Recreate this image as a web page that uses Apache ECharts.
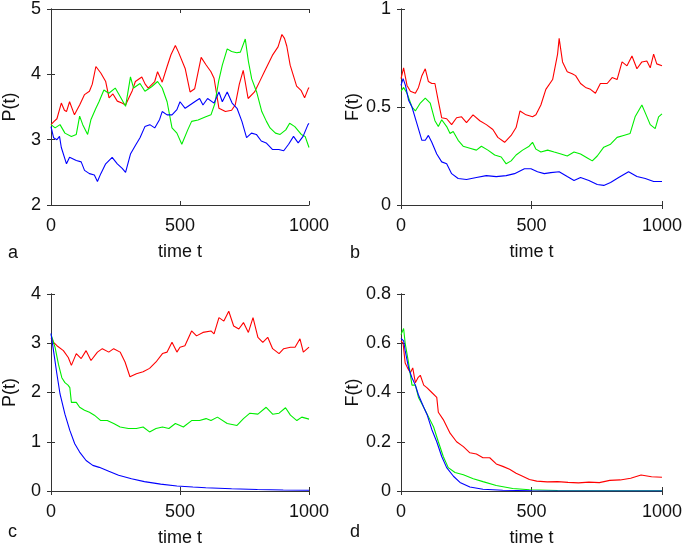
<!DOCTYPE html>
<html><head><meta charset="utf-8">
<script src="https://cdn.jsdelivr.net/npm/echarts@6/dist/echarts.min.js"></script>
<style>html,body{margin:0;padding:0;background:#fff}#c{width:685px;height:548px}</style>
</head><body><div id="c"></div>
<script>
// ---- tick labels ----
const xTicks = [0, 500, 1000];
const yTicksA = [2, 3, 4, 5];
const yTicksB = [0, 0.5, 1];
const yTicksC = [0, 1, 2, 3, 4];
const yTicksD = [0, 0.2, 0.4, 0.6, 0.8];

// ---- panel a: P(t) ----
const aRed = [[0,3.23],[12,3.28],[23,3.32],[40,3.56],[52,3.45],[60,3.43],[72,3.58],[91,3.38],[100,3.45],[111,3.53],[130,3.69],[149,3.74],[160,3.85],[174,4.12],[193,4.02],[212,3.89],[225,3.64],[240,3.7],[257,3.59],[275,3.56],[289,3.53],[302,3.64],[315,3.75],[327,3.89],[352,3.96],[365,3.85],[377,3.79],[402,3.89],[413,4.04],[431,3.88],[450,4.12],[465,4.3],[482,4.44],[494,4.34],[520,4.09],[539,3.73],[557,3.78],[582,4.26],[600,4.15],[620,4.04],[632,3.94],[651,3.48],[676,3.43],[700,3.45],[714,3.53],[730,3.85],[745,4.06],[764,3.63],[789,3.73],[810,3.9],[827,4.04],[858,4.29],[880,4.42],[895,4.61],[905,4.55],[914,4.43],[927,4.14],[952,3.82],[970,3.75],[983,3.64],[996,3.77],[1000,3.8]];
const aGreen = [[0,3.23],[16,3.18],[35,3.23],[54,3.1],[79,3.05],[98,3.08],[111,3.36],[123,3.23],[142,3.08],[155,3.31],[174,3.48],[186,3.58],[205,3.76],[224,3.71],[249,3.79],[268,3.66],[289,3.51],[308,3.96],[320,3.79],[345,3.86],[364,3.74],[390,3.81],[413,3.89],[431,3.79],[450,3.58],[469,3.18],[488,3.1],[507,2.93],[513,2.95],[530,3.15],[545,3.28],[570,3.3],[600,3.35],[620,3.38],[635,3.55],[650,3.9],[664,4.14],[683,4.39],[700,4.35],[720,4.33],[734,4.34],[753,4.54],[765,4.2],[778,3.93],[797,3.73],[817,3.43],[835,3.28],[849,3.18],[870,3.1],[888,3.08],[910,3.15],[925,3.25],[945,3.2],[970,3.08],[985,3.05],[1000,2.88]];
const aBlue = [[0,3.2],[10,3.03],[23,3.0],[33,3.05],[40,2.88],[60,2.63],[72,2.73],[98,2.68],[117,2.66],[130,2.53],[149,2.48],[168,2.46],[180,2.36],[193,2.48],[212,2.63],[237,2.73],[257,2.63],[276,2.56],[289,2.5],[308,2.78],[327,2.91],[345,3.03],[364,3.2],[383,3.23],[402,3.18],[421,3.31],[431,3.43],[450,3.38],[469,3.38],[488,3.46],[500,3.58],[520,3.48],[557,3.58],[576,3.63],[589,3.53],[607,3.63],[632,3.56],[651,3.73],[664,3.58],[683,3.73],[702,3.56],[721,3.48],[740,3.28],[758,3.03],[777,3.1],[796,3.08],[815,2.98],[834,2.95],[858,2.85],[883,2.85],[902,2.83],[921,2.93],[940,3.05],[958,2.95],[977,3.05],[996,3.23],[1000,3.25]];

// ---- panel b: F(t) ----
const bRed = [[0,0.645],[10,0.70],[23,0.61],[36,0.58],[55,0.57],[67,0.6],[80,0.66],[93,0.695],[105,0.63],[118,0.62],[130,0.62],[143,0.53],[156,0.445],[175,0.44],[194,0.41],[213,0.445],[232,0.45],[251,0.42],[276,0.46],[302,0.43],[327,0.41],[352,0.385],[371,0.345],[397,0.32],[422,0.355],[441,0.395],[456,0.48],[479,0.46],[504,0.45],[517,0.46],[536,0.51],[555,0.59],[581,0.64],[600,0.77],[606,0.85],[619,0.73],[637,0.68],[656,0.67],[669,0.66],[688,0.62],[707,0.6],[726,0.59],[745,0.57],[764,0.62],[790,0.62],[809,0.65],[828,0.64],[847,0.73],[866,0.71],[885,0.76],[904,0.695],[923,0.73],[942,0.735],[955,0.70],[968,0.77],[980,0.72],[1000,0.71]];
const bGreen = [[0,0.58],[10,0.6],[23,0.57],[42,0.5],[55,0.48],[74,0.52],[93,0.545],[112,0.52],[130,0.43],[143,0.4],[156,0.435],[175,0.4],[188,0.365],[200,0.375],[219,0.33],[238,0.3],[264,0.29],[289,0.28],[308,0.3],[333,0.28],[359,0.255],[384,0.245],[403,0.21],[422,0.225],[441,0.255],[466,0.28],[491,0.3],[504,0.32],[517,0.285],[536,0.27],[562,0.28],[587,0.27],[613,0.26],[637,0.25],[663,0.27],[688,0.26],[714,0.24],[733,0.225],[752,0.25],[777,0.295],[803,0.31],[828,0.345],[853,0.355],[878,0.365],[897,0.45],[923,0.51],[936,0.47],[955,0.41],[974,0.39],[987,0.45],[1000,0.465]];
const bBlue = [[0,0.61],[8,0.645],[17,0.61],[29,0.535],[42,0.5],[61,0.415],[80,0.33],[93,0.33],[105,0.355],[118,0.32],[137,0.26],[156,0.22],[175,0.21],[194,0.16],[219,0.135],[251,0.13],[289,0.14],[327,0.15],[365,0.145],[403,0.15],[435,0.16],[473,0.185],[498,0.185],[523,0.17],[549,0.16],[574,0.165],[606,0.17],[637,0.145],[663,0.125],[688,0.14],[720,0.125],[752,0.105],[777,0.1],[803,0.115],[834,0.14],[872,0.17],[904,0.145],[936,0.135],[968,0.12],[1000,0.12]];

// ---- panel c: P(t) ----
const cRed = [[0,3.11],[10,3.02],[23,2.95],[48,2.85],[67,2.71],[79,2.55],[98,2.79],[117,2.69],[136,2.85],[155,2.65],[180,2.82],[199,2.89],[224,2.82],[243,2.89],[268,2.82],[287,2.62],[306,2.32],[331,2.38],[357,2.42],[382,2.49],[407,2.62],[432,2.79],[450,2.82],[469,3.02],[488,2.82],[500,2.92],[519,2.95],[545,3.25],[564,3.15],[589,3.22],[620,3.25],[632,3.19],[651,3.52],[670,3.45],[689,3.65],[708,3.35],[728,3.29],[746,3.42],[765,3.22],[783,3.52],[802,3.12],[821,3.02],[840,3.12],[859,2.89],[884,2.79],[902,2.89],[928,2.92],[946,2.92],[965,3.09],[978,2.82],[1000,2.92]];
const cGreen = [[0,3.18],[8,3.05],[16,2.91],[29,2.57],[42,2.3],[54,2.2],[66,2.15],[73,2.1],[79,1.8],[98,1.8],[111,1.7],[130,1.64],[149,1.6],[168,1.54],[193,1.43],[218,1.43],[243,1.37],[268,1.3],[300,1.27],[331,1.27],[357,1.3],[382,1.2],[407,1.27],[432,1.3],[457,1.27],[482,1.37],[500,1.33],[513,1.3],[545,1.43],[576,1.43],[601,1.47],[620,1.43],[645,1.5],[683,1.37],[721,1.33],[746,1.47],[771,1.58],[802,1.56],[834,1.7],[859,1.56],[884,1.58],[909,1.69],[928,1.54],[953,1.43],[972,1.5],[1000,1.46]];
const cBlue = [[0,3.2],[10,2.84],[23,2.37],[35,1.97],[54,1.56],[73,1.23],[92,0.96],[111,0.79],[136,0.62],[162,0.52],[187,0.48],[224,0.4],[262,0.32],[312,0.25],[362,0.19],[425,0.14],[488,0.1],[550,0.08],[600,0.065],[700,0.045],[800,0.03],[900,0.02],[1000,0.015]];

// ---- panel d: F(t) ----
const dRed = [[0,0.61],[8,0.6],[16,0.52],[25,0.5],[36,0.48],[45,0.5],[55,0.44],[65,0.46],[74,0.47],[87,0.43],[99,0.42],[118,0.4],[137,0.38],[143,0.32],[162,0.29],[188,0.235],[213,0.2],[239,0.18],[264,0.155],[289,0.15],[314,0.135],[340,0.135],[365,0.11],[390,0.1],[416,0.088],[441,0.072],[466,0.06],[492,0.047],[520,0.04],[560,0.037],[600,0.038],[640,0.035],[680,0.033],[720,0.036],[760,0.034],[800,0.043],[840,0.045],[880,0.052],[920,0.065],[960,0.058],[1000,0.056]];
const dGreen = [[0,0.635],[10,0.66],[16,0.6],[29,0.52],[42,0.43],[55,0.43],[67,0.38],[87,0.34],[106,0.3],[125,0.26],[143,0.2],[162,0.14],[181,0.095],[207,0.075],[239,0.066],[277,0.05],[314,0.038],[365,0.022],[428,0.01],[492,0.005],[600,0.002],[800,0.001],[1000,0.001]];
const dBlue = [[0,0.62],[10,0.61],[16,0.57],[29,0.5],[42,0.46],[55,0.43],[67,0.39],[87,0.34],[100,0.31],[118,0.25],[137,0.2],[156,0.14],[175,0.095],[201,0.06],[226,0.035],[264,0.016],[314,0.007],[390,0.003],[500,0.001],[1000,0]];

const COLORS = ['#ff0000', '#00ee00', '#0000ff'];
const FONT = '"Liberation Sans", Arial, Helvetica, sans-serif';
const TXT = '#111';
const AX = '#333';

const panels = [
  {letter:'a', grid:{left:44, top:6, width:265, height:199}, yName:'P(t)', yTicks:yTicksA, data:[aRed, aGreen, aBlue], lx:8, ly:244},
  {letter:'b', grid:{left:401, top:6, width:263, height:199}, yName:'F(t)', yTicks:yTicksB, data:[bRed, bGreen, bBlue], lx:350, ly:244},
  {letter:'c', grid:{left:44, top:294, width:265, height:198}, yName:'P(t)', yTicks:yTicksC, data:[cRed, cGreen, cBlue], lx:8, ly:523},
  {letter:'d', grid:{left:401, top:294, width:263, height:198}, yName:'F(t)', yTicks:yTicksD, data:[dRed, dGreen, dBlue], lx:350, ly:523}
];

const grids = [], xAxes = [], yAxes = [], series = [], graphics = [];
const tickStyle = {show:true, inside:true, length:4, lineStyle:{color:AX, width:1}};
const lineStyleAx = {show:true, lineStyle:{color:AX, width:1}};
const fmt = v => String(Math.round(v * 10) / 10);

panels.forEach((p, i) => {
  grids.push(Object.assign({containLabel:false}, p.grid));
  const yMin = p.yTicks[0], yMax = p.yTicks[p.yTicks.length - 1], yStep = p.yTicks[1] - p.yTicks[0];
  const xMin = xTicks[0], xMax = xTicks[xTicks.length - 1], xStep = xTicks[1] - xTicks[0];
  xAxes.push({
    type:'value', gridIndex:i, position:'bottom', min:xMin, max:xMax, interval:xStep,
    axisLine:lineStyleAx, axisTick:tickStyle, splitLine:{show:false},
    axisLabel:{show:true, margin:12, color:TXT, fontSize:18, fontFamily:FONT, formatter:fmt},
    name:'time t', nameLocation:'middle', nameGap:38,
    nameTextStyle:{color:TXT, fontSize:18, fontFamily:FONT}
  });
  xAxes.push({
    type:'value', gridIndex:i, position:'top', min:xMin, max:xMax, interval:xStep,
    axisLine:lineStyleAx, axisTick:tickStyle, splitLine:{show:false}, axisLabel:{show:false}
  });
  yAxes.push({
    type:'value', gridIndex:i, position:'left', min:yMin, max:yMax, interval:yStep,
    axisLine:lineStyleAx, axisTick:tickStyle, splitLine:{show:false},
    axisLabel:{show:true, margin:10, color:TXT, fontSize:18, fontFamily:FONT, formatter:fmt},
    name:p.yName, nameLocation:'middle', nameGap:32, nameRotate:90,
    nameTextStyle:{color:TXT, fontSize:18, fontFamily:FONT}
  });
  yAxes.push({
    type:'value', gridIndex:i, position:'right', min:yMin, max:yMax, interval:yStep,
    axisLine:lineStyleAx, axisTick:tickStyle, splitLine:{show:false}, axisLabel:{show:false}
  });
  p.data.forEach((d, k) => {
    series.push({
      type:'line', xAxisIndex:2 * i, yAxisIndex:2 * i, data:d,
      showSymbol:false, symbol:'none', smooth:false, silent:true,
      lineStyle:{color:COLORS[k], width:1.1}, itemStyle:{color:COLORS[k]},
      z:2 + k
    });
  });
  graphics.push({type:'text', left:p.lx, top:p.ly, style:{text:p.letter, font:'18px ' + FONT, fill:TXT}});
});

const chart = echarts.init(document.getElementById('c'), null, {renderer:'canvas'});
chart.setOption({
  animation:false,
  backgroundColor:'#ffffff',
  grid:grids, xAxis:xAxes, yAxis:yAxes, series:series, graphic:graphics
});
</script>
</body></html>
